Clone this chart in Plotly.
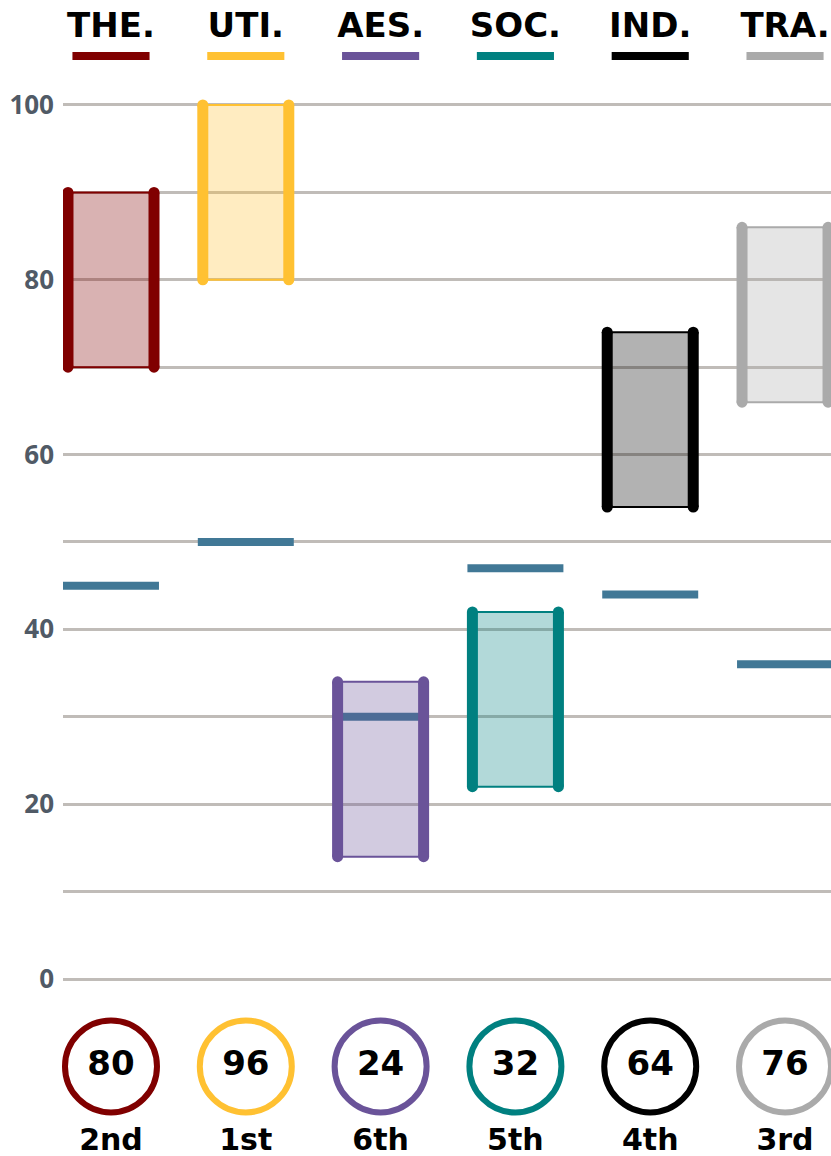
import plotly.graph_objects as go

categories = ["THE.", "UTI.", "AES.", "SOC.", "IND.", "TRA."]
colors = ["#800000", "#FFC132", "#6A5399", "#008080", "#000000", "#AAAAAA"]
low = [70, 80, 14, 22, 54, 66]
high = [90, 100, 34, 42, 74, 86]
norm = [45, 50, 30, 47, 44, 36]
scores = [80, 96, 24, 32, 64, 76]
ranks = ["2nd", "1st", "6th", "5th", "4th", "3rd"]
y_ticks = list(range(0, 101, 10))
y_labels = [str(v) if v % 20 == 0 else "" for v in y_ticks]


def rgba(hex_color, a):
    h = hex_color.lstrip("#")
    r, g, b = int(h[0:2], 16), int(h[2:4], 16), int(h[4:6], 16)
    return f"rgba({r},{g},{b},{a})"


HW = 0.319      # half width of range box
NW = 0.356      # half width of norm line
UW = 0.286      # half width of header underline
HEAD_Y = 108.8
UNDER_Y = 105.6
CIRCLE_Y = -10.0
RANK_Y = -18.7
BOLD = "DejaVu Sans"

fig = go.Figure()

# norm markers (drawn first, beneath boxes)
nx, ny = [], []
for i, v in enumerate(norm):
    nx += [i - NW, i + NW, None]
    ny += [v, v, None]
fig.add_trace(go.Scatter(x=nx, y=ny, mode="lines",
                         line=dict(color="#417896", width=8), hoverinfo="skip"))

# range boxes
for i, c in enumerate(categories):
    fig.add_trace(go.Scatter(
        x=[i - HW, i + HW, i + HW, i - HW, i - HW],
        y=[low[i], low[i], high[i], high[i], low[i]],
        mode="lines", fill="toself", fillcolor=rgba(colors[i], 0.3),
        line=dict(color=colors[i], width=2), hoverinfo="skip"))
    fig.add_trace(go.Scatter(
        x=[i - HW, i - HW, None, i + HW, i + HW],
        y=[low[i], high[i], None, low[i], high[i]],
        mode="lines+markers",
        line=dict(color=colors[i], width=11),
        marker=dict(color=colors[i], size=11),
        hoverinfo="skip"))

    # header underline
    fig.add_trace(go.Scatter(
        x=[i - UW, i + UW], y=[UNDER_Y, UNDER_Y], mode="lines",
        line=dict(color=colors[i], width=8), hoverinfo="skip", cliponaxis=False))

# headers
fig.add_trace(go.Scatter(
    x=list(range(len(categories))), y=[HEAD_Y] * len(categories), mode="text",
    text=categories, textposition="middle center",
    textfont=dict(family=BOLD, size=34, color="#000000", weight=700),
    hoverinfo="skip", cliponaxis=False))

# score circles
fig.add_trace(go.Scatter(
    x=list(range(len(categories))), y=[CIRCLE_Y] * len(categories),
    mode="markers+text", text=[str(s) for s in scores],
    textposition="middle center",
    textfont=dict(family=BOLD, size=34, color="#000000", weight=700),
    marker=dict(symbol="circle", size=92, color="white",
                line=dict(color=colors, width=6)),
    hoverinfo="skip", cliponaxis=False))

# ranks
fig.add_trace(go.Scatter(
    x=list(range(len(categories))), y=[RANK_Y] * len(categories), mode="text",
    text=ranks, textposition="middle center",
    textfont=dict(family=BOLD, size=30, color="#000000", weight=700),
    hoverinfo="skip", cliponaxis=False))

fig.update_layout(
    width=831, height=1156,
    margin=dict(l=63, r=0, t=0, b=0),
    paper_bgcolor="white", plot_bgcolor="white",
    showlegend=False,
    xaxis=dict(range=[-0.356, 5.341], showgrid=False, zeroline=False,
               showticklabels=False, fixedrange=True),
    yaxis=dict(range=[-20.25, 112.01], tickmode="array", tickvals=y_ticks,
               ticktext=y_labels, showgrid=True, gridcolor="#C0BCB8",
               gridwidth=3, zeroline=False, ticks="",
               tickfont=dict(family="Open Sans", size=26, color="#505A66", weight=700),
               ticklabelstandoff=8),
)

fig.write_html("out.html")
